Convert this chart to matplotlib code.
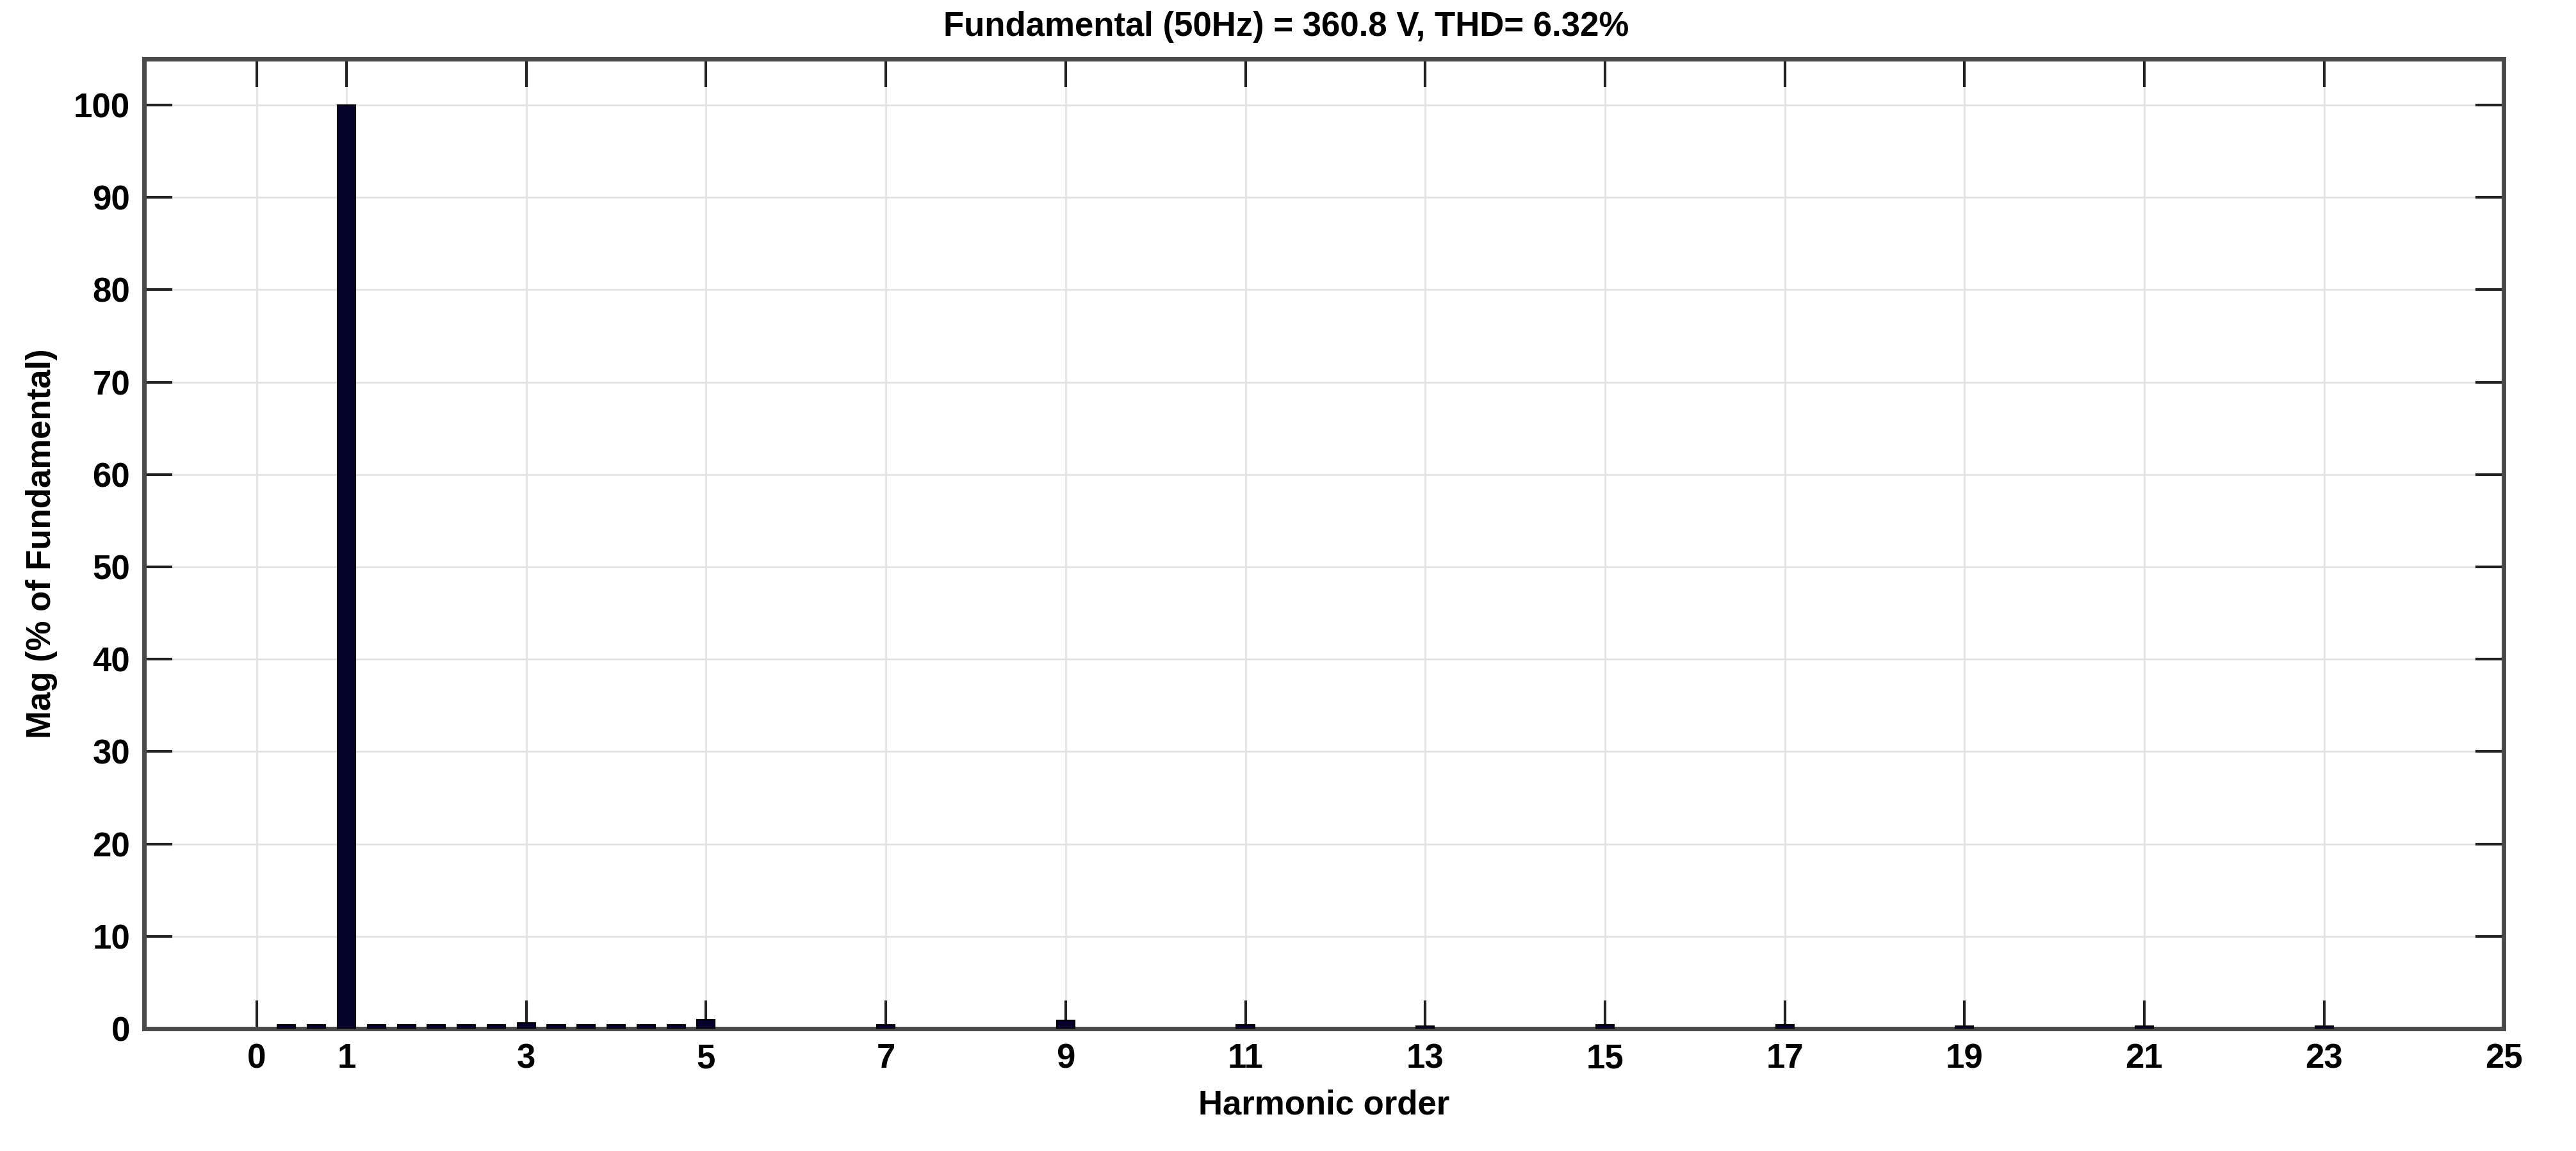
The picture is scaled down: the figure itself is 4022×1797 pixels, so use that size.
import numpy as np
import matplotlib
matplotlib.use("Agg")
import matplotlib.pyplot as plt

# harmonic spectrum (1/3 harmonic resolution up to 5, odd harmonics after)
orders = [1/3, 2/3, 1, 4/3, 5/3, 2, 7/3, 8/3, 3, 10/3, 11/3, 4, 13/3, 14/3, 5,
          7, 9, 11, 13, 15, 17, 19, 21, 23]
mags = [0.4, 0.4, 100, 0.4, 0.4, 0.4, 0.4, 0.4, 0.6, 0.4, 0.4, 0.4, 0.4, 0.4, 1.0,
        0.4, 0.9, 0.4, 0.3, 0.4, 0.4, 0.3, 0.3, 0.3]
xticks = [0, 1, 3, 5, 7, 9, 11, 13, 15, 17, 19, 21, 23, 25]
yticks = list(range(0, 101, 10))

plt.rcParams['font.family'] = ['Liberation Sans', 'DejaVu Sans']
plt.rcParams['font.weight'] = 'bold'

fig = plt.figure(figsize=(40.22, 17.97), dpi=100)
ax = fig.add_axes([0.056, 0.1063, 0.916, 0.8425])

ax.bar(orders, mags, width=0.2, color='#06022c', edgecolor='black', linewidth=1.5, zorder=3)

ax.set_xlim(-1.25, 25)
ax.set_ylim(0, 105)
ax.set_xticks(xticks)
ax.set_yticks(yticks)
ax.grid(True, color='#e3e3e3', linewidth=2, zorder=0)
ax.tick_params(direction='in', length=32, width=3, top=True, right=True,
               labelsize=38, pad=16, color='#222222')
for s in ax.spines.values():
    s.set_linewidth(5)
    s.set_color('#4a4a4a')
for lab in ax.get_xticklabels() + ax.get_yticklabels():
    lab.set_fontweight('bold')

ax.set_title('Fundamental (50Hz) = 360.8 V, THD= 6.32%', fontsize=38, fontweight='bold',
             pad=26, x=0.484)
ax.set_xlabel('Harmonic order', fontsize=38, fontweight='bold', labelpad=16)
ax.set_ylabel('Mag (% of Fundamental)', fontsize=38, fontweight='bold', labelpad=18)

fig.savefig('out.png', dpi=100, facecolor='white')
